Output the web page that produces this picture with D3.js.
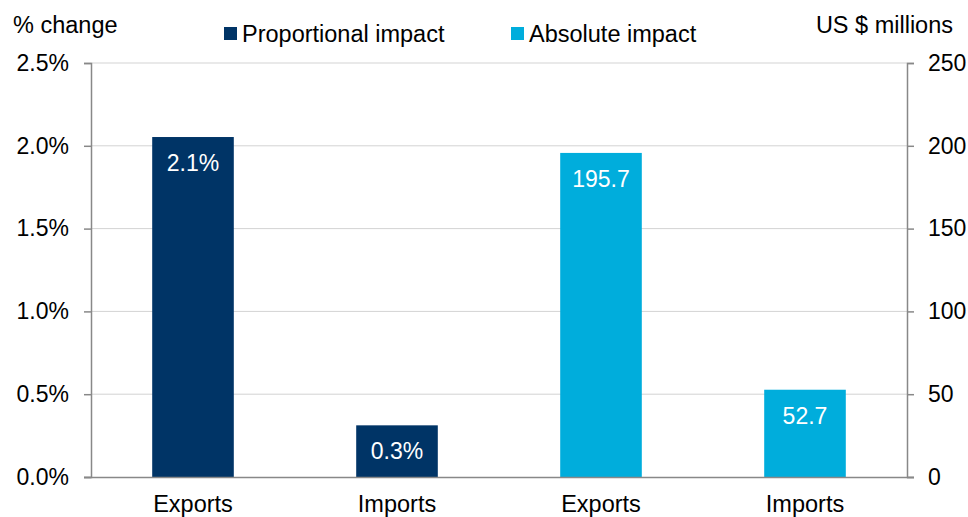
<!DOCTYPE html>
<html>
<head>
<meta charset="utf-8">
<script src="https://cdn.jsdelivr.net/npm/d3@7"></script>
<style>
  body { margin: 0; background: #fff; }
  svg text { font-family: "Liberation Sans", Arial, sans-serif; fill: #000; }
</style>
</head>
<body>
<svg id="chart" width="968" height="517"></svg>
<script>
// chart data
const categories = ["Exports", "Imports", "Exports", "Imports"];
const series = ["Proportional impact", "Absolute impact"];
const proportional = [2.053, 0.312];   // % change, left axis
const absolute = [195.7, 52.7];        // US $ millions, right axis
const propLabels = ["2.1%", "0.3%"];
const absLabels = ["195.7", "52.7"];
const leftTicks = [0, 0.5, 1, 1.5, 2, 2.5];
const rightTicks = [0, 50, 100, 150, 200, 250];

const colors = { "Proportional impact": "#003466", "Absolute impact": "#00addc" };

const svg = d3.select("#chart");
const plot = { left: 91, right: 907, top: 63, bottom: 477 };

let x = d3.scaleBand().domain(d3.range(categories.length)).range([plot.left, plot.right]).paddingInner(0.6).paddingOuter(0.3);
let yL = d3.scaleLinear().domain([0, 2.5]).range([plot.bottom, plot.top]);
let yR = d3.scaleLinear().domain([0, 250]).range([plot.bottom, plot.top]);

// gridlines
svg.append("g").selectAll("line").data(leftTicks.slice(1)).enter().append("line")
  .attr("x1", plot.left).attr("x2", plot.right)
  .attr("y1", d => yL(d)).attr("y2", d => yL(d))
  .attr("stroke", "#d3d3d3").attr("stroke-width", 1);

// bars
let bars = [];
proportional.forEach((v, i) => bars.push({ i: i, v: v, s: series[0], y: yL, label: propLabels[i] }));
absolute.forEach((v, i) => bars.push({ i: i + 2, v: v, s: series[1], y: yR, label: absLabels[i] }));

svg.append("g").selectAll("rect").data(bars).enter().append("rect")
  .attr("x", d => x(d.i)).attr("width", x.bandwidth())
  .attr("y", d => d.y(d.v)).attr("height", d => plot.bottom - d.y(d.v))
  .attr("fill", d => colors[d.s]);

svg.append("g").selectAll("text").data(bars).enter().append("text")
  .attr("x", d => x(d.i) + x.bandwidth() / 2)
  .attr("y", d => d.y(d.v) + 34)
  .attr("text-anchor", "middle")
  .style("font-size", "23px").style("fill", "#fff")
  .text(d => d.label);

// axes
let axL = svg.append("g").attr("transform", `translate(${plot.left},0)`)
  .call(d3.axisLeft(yL).tickValues(leftTicks).tickFormat(d => d.toFixed(1) + "%").tickSize(7).tickPadding(15));
let axR = svg.append("g").attr("transform", `translate(${plot.right},0)`)
  .call(d3.axisRight(yR).tickValues(rightTicks).tickFormat(d3.format("d")).tickSize(7).tickPadding(14));
let axB = svg.append("g").attr("transform", `translate(0,${plot.bottom})`)
  .call(d3.axisBottom(x).tickFormat(i => categories[i]).tickSize(0).tickPadding(18));
axB.select(".domain").attr("d", `M${plot.left - 7},0.5H${plot.right + 7}`);

[axL, axR, axB].forEach(a => {
  a.selectAll(".domain").attr("stroke", "#888").attr("stroke-width", 1.5);
  a.selectAll(".tick line").attr("stroke", "#888").attr("stroke-width", 1.5);
  a.selectAll("text").style("font-size", "23px").attr("fill", "#000")
    .style("font-family", '"Liberation Sans", Arial, sans-serif');
});
axB.selectAll("text").style("font-size", "23.5px");

// axis titles
svg.append("text").attr("x", 13).attr("y", 33).style("font-size", "23.5px").text("% change");
svg.append("text").attr("x", 953).attr("y", 33).attr("text-anchor", "end").style("font-size", "23.5px").text("US $ millions");

// legend
const legendX = [224, 511];
let lg = svg.append("g").selectAll("g").data(series).enter().append("g")
  .attr("transform", (d, i) => `translate(${legendX[i]},27)`);
lg.append("rect").attr("width", 13).attr("height", 13).attr("fill", d => colors[d]);
lg.append("text").attr("x", 18).attr("y", 15).style("font-size", "23.5px").text(d => d);
</script>
</body>
</html>
